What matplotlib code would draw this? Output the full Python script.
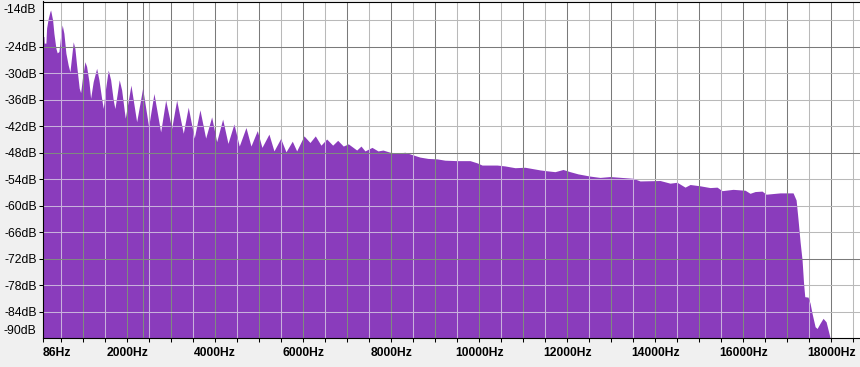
import matplotlib
matplotlib.use("Agg")
import matplotlib.pyplot as plt

# ---- data (frequency in Hz, level in dB) ----
freq_hz = [86, 107, 114, 152, 168, 205, 243, 259, 305, 334, 380, 409, 448, 470, 493,
           523, 561, 607, 659, 698, 736, 773, 811, 850, 909, 941, 986, 1039, 1077,
           1130, 1168, 1227, 1305, 1357, 1418, 1455, 1509, 1568, 1623, 1682, 1720,
           1773, 1818, 1873, 1955, 2084, 2214, 2350, 2486, 2607, 2759, 2873, 3009,
           3123, 3273, 3386, 3523, 3652, 3782, 3918, 4032, 4168, 4289, 4425, 4545,
           4698, 4811, 4955, 5061, 5220, 5334, 5486, 5607, 5750, 5850, 6016, 6152,
           6273, 6402, 6532, 6668, 6782, 6909, 7023, 7214, 7311, 7402, 7561, 7698,
           7811, 7970, 8152, 8311, 8493, 8652, 8834, 9039, 9220, 9493, 9789, 9948,
           10061, 10402, 10584, 10811, 11039, 11152, 11380, 11539, 11720, 11902,
           12061, 12243, 12516, 12743, 12970, 13493, 13652, 14107, 14334, 14493,
           14675, 14789, 15016, 15243, 15402, 15516, 15766, 16039, 16152, 16266,
           16425, 16516, 16834, 17129, 17198, 17243, 17289, 17334, 17368, 17395,
           17470, 17516, 17561, 17630, 17675, 17743, 17811, 17880, 17925, 17970,
           18000]
level_db = [-21.7, -21.7, -23.2, -23.2, -19.8, -17.6, -16.1, -15.7, -18.0, -21.0,
            -24.4, -25.4, -25.1, -23.2, -21.0, -19.1, -21.0, -25.5, -28.2, -29.7,
            -26.3, -22.9, -24.4, -28.2, -33.4, -34.4, -30.8, -27.4, -28.5, -31.9,
            -35.7, -31.9, -28.9, -31.5, -35.7, -38.0, -33.4, -29.3, -31.5, -36.1,
            -38.0, -34.6, -31.5, -33.8, -40.2, -32.7, -41.0, -33.4, -42.1, -34.6,
            -43.3, -36.1, -42.5, -36.1, -43.6, -37.7, -44.7, -38.3, -44.7, -39.9,
            -45.5, -40.4, -45.9, -41.5, -46.5, -42.3, -46.5, -43.0, -46.8, -43.8,
            -47.6, -44.8, -47.8, -45.4, -47.6, -44.2, -45.7, -44.2, -46.3, -44.9,
            -46.3, -45.2, -46.5, -46.0, -47.4, -46.5, -47.6, -46.8, -47.6, -47.4,
            -47.9, -48.1, -47.9, -48.5, -49.0, -49.3, -49.4, -49.7, -49.8, -49.8,
            -50.3, -50.8, -50.8, -51.0, -51.4, -51.3, -51.5, -51.9, -52.1, -52.3,
            -51.8, -52.3, -52.8, -53.3, -53.6, -53.4, -53.8, -54.4, -54.3, -54.9,
            -54.7, -55.8, -55.2, -55.5, -55.9, -55.8, -56.6, -56.3, -56.5, -57.2,
            -56.8, -56.7, -57.4, -57.1, -57.1, -58.7, -63.2, -68.2, -72.3, -77.6,
            -80.6, -80.7, -82.1, -84.4, -87.4, -87.8, -86.6, -85.5, -86.3, -88.1,
            -89.9, -90.0]

x_tick_hz = list(range(500, 19000, 500))
x_label_hz = [86, 2000, 4000, 6000, 8000, 10000, 12000, 14000, 16000, 18000]
y_tick_db = [-18, -24, -30, -36, -42, -48, -54, -60, -66, -72, -78, -84]
y_label_db = [-24, -30, -36, -42, -48, -54, -60, -66, -72, -78, -84]
y_edge_labels = [-14, -90]
major_grid_db = [-24, -48, -72]
minor_grid_db = [-18, -30, -36, -42, -54, -60, -66, -78, -84]
cursor_hz = 2350

# ---- style ----
FIG_BG = "#f0f0f0"
FILL = "#8a3cbc"
LIGHT_W, DARK_W = "#b9b9b9", "#7a7a7a"
LIGHT_P, DARK_P = "#c8b0dc", "#7f8a80"
FONT = "Liberation Sans"

fig = plt.figure(figsize=(8.6, 3.67), dpi=100, facecolor=FIG_BG)
W, H = 860.0, 367.0
left_px, right_px, top_px, bottom_px = 43.0, 860.0, 1.5, 338.2
ax = fig.add_axes([left_px / W, (H - bottom_px) / H,
                   (right_px - left_px) / W, (bottom_px - top_px) / H])
ax.set_facecolor("white")
ax.set_xlim(86, 18650)
ax.set_ylim(-90, -13.77)

poly = ax.fill_between(freq_hz, level_db, -90, color=FILL, linewidth=0, zorder=2)
clip_path = poly.get_paths()[0]
clip_trans = poly.get_transform()

lw = 0.75


def grid_lines(over_fill):
    zo = 3 if over_fill else 1
    lines = []
    for f in x_tick_hz:
        dark = (f % 1000 == 0)
        if over_fill:
            c = DARK_P if dark else LIGHT_P
        else:
            c = DARK_W if dark else LIGHT_W
        lines.append(ax.axvline(f, color=c, lw=lw, zorder=zo))
    lines.append(ax.axvline(cursor_hz, color=DARK_P if over_fill else DARK_W,
                            lw=lw, zorder=zo))
    for d in minor_grid_db:
        lines.append(ax.axhline(d, color=LIGHT_P if over_fill else LIGHT_W,
                                lw=lw, zorder=zo))
    for d in major_grid_db:
        lines.append(ax.axhline(d, color=DARK_P if over_fill else DARK_W,
                                lw=lw, zorder=zo))
    if over_fill:
        for ln in lines:
            ln.set_clip_path(clip_path, clip_trans)


grid_lines(False)
grid_lines(True)

for side in ("left", "top", "bottom"):
    ax.spines[side].set_color("black")
    ax.spines[side].set_linewidth(0.8)
    ax.spines[side].set_zorder(5)
ax.spines["right"].set_visible(False)

# x axis ticks
xt = sorted(set(x_tick_hz + x_label_hz))
ax.set_xticks(xt)
ax.set_xticklabels([f"{v}Hz" if v in x_label_hz else "" for v in xt],
                   fontfamily=FONT, fontweight="bold", fontsize=8.7)
ax.tick_params(axis="x", which="major", length=3, width=0.75, color="black",
               direction="out", pad=3.5)
ax.get_xticklabels()[0].set_horizontalalignment("left")

# y axis ticks
ax.set_yticks(y_tick_db)
ax.set_yticklabels(["" if v not in y_label_db else f"{v}dB" for v in y_tick_db],
                   fontfamily=FONT, fontsize=8.7)
ax.tick_params(axis="y", which="major", length=3.2, width=0.75, color="black",
               direction="out", pad=1.2)
ytrans = ax.get_yaxis_transform()
ax.annotate(f"{y_edge_labels[0]}dB", xy=(0, y_edge_labels[0]), xycoords=ytrans,
            xytext=(-4.9, -5.4), textcoords="offset points", ha="right",
            va="center", fontfamily=FONT, fontsize=8.7, annotation_clip=False)
ax.annotate(f"{y_edge_labels[1]}dB", xy=(0, y_edge_labels[1]), xycoords=ytrans,
            xytext=(-4.9, 5.0), textcoords="offset points", ha="right",
            va="center", fontfamily=FONT, fontsize=8.7, annotation_clip=False)

fig.savefig("out.png", dpi=100, facecolor=FIG_BG)
